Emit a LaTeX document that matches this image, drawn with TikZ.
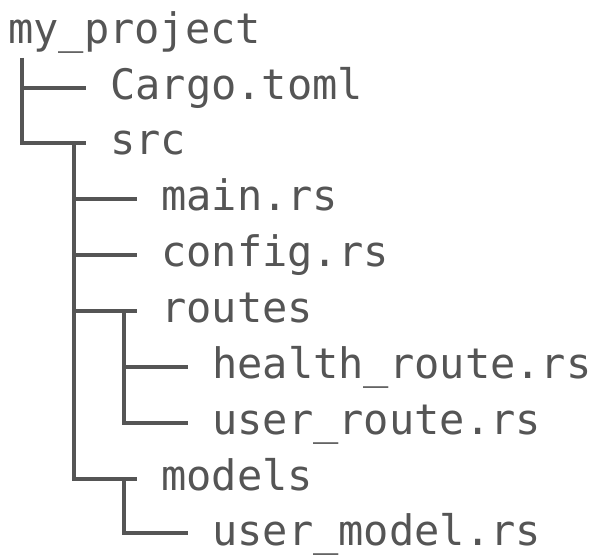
\documentclass[tikz,border=0pt]{standalone}
\usepackage{fontspec}
\setmonofont{DejaVu Sans Mono}
\definecolor{ink}{HTML}{555555}
\tikzset{
  entry/.style={anchor=west, inner sep=0pt, text height=33pt, text depth=9pt,
    font=\ttfamily\fontsize{42}{50}\selectfont, text=ink},
  branch/.style={draw=ink, line width=3.2pt, line join=miter}
}
\begin{document}
\begin{tikzpicture}[x=1pt,y=-1pt]
\useasboundingbox (0,0) rectangle (598,556);
\node[entry] (root) at (8,32) {my\_project};
\node[entry] (cargo) at (110,88) {Cargo.toml};
\node[entry] (src) at (110,143) {src};
\node[entry] (main) at (161,199) {main.rs};
\node[entry] (config) at (161,255) {config.rs};
\node[entry] (routes) at (161,311) {routes};
\node[entry] (health) at (212,367) {health\_route.rs};
\node[entry] (uroute) at (212,423) {user\_route.rs};
\node[entry] (models) at (161,479) {models};
\node[entry] (umodel) at (212,533) {user\_model.rs};
\coordinate (p0) at (22,58);
\coordinate (p1) at (74,143);
\coordinate (p2) at (124,311);
\coordinate (p3) at (124,479);
\draw[branch] (p0) |- ([xshift=-24pt]cargo.west);
\draw[branch] (p0) |- ([xshift=-24pt]src.west);
\draw[branch] (p1) |- ([xshift=-24pt]main.west);
\draw[branch] (p1) |- ([xshift=-24pt]config.west);
\draw[branch] (p1) |- ([xshift=-24pt]routes.west);
\draw[branch] (p1) |- ([xshift=-24pt]models.west);
\draw[branch] (p2) |- ([xshift=-24pt]health.west);
\draw[branch] (p2) |- ([xshift=-24pt]uroute.west);
\draw[branch] (p3) |- ([xshift=-24pt]umodel.west);
\end{tikzpicture}
\end{document}
